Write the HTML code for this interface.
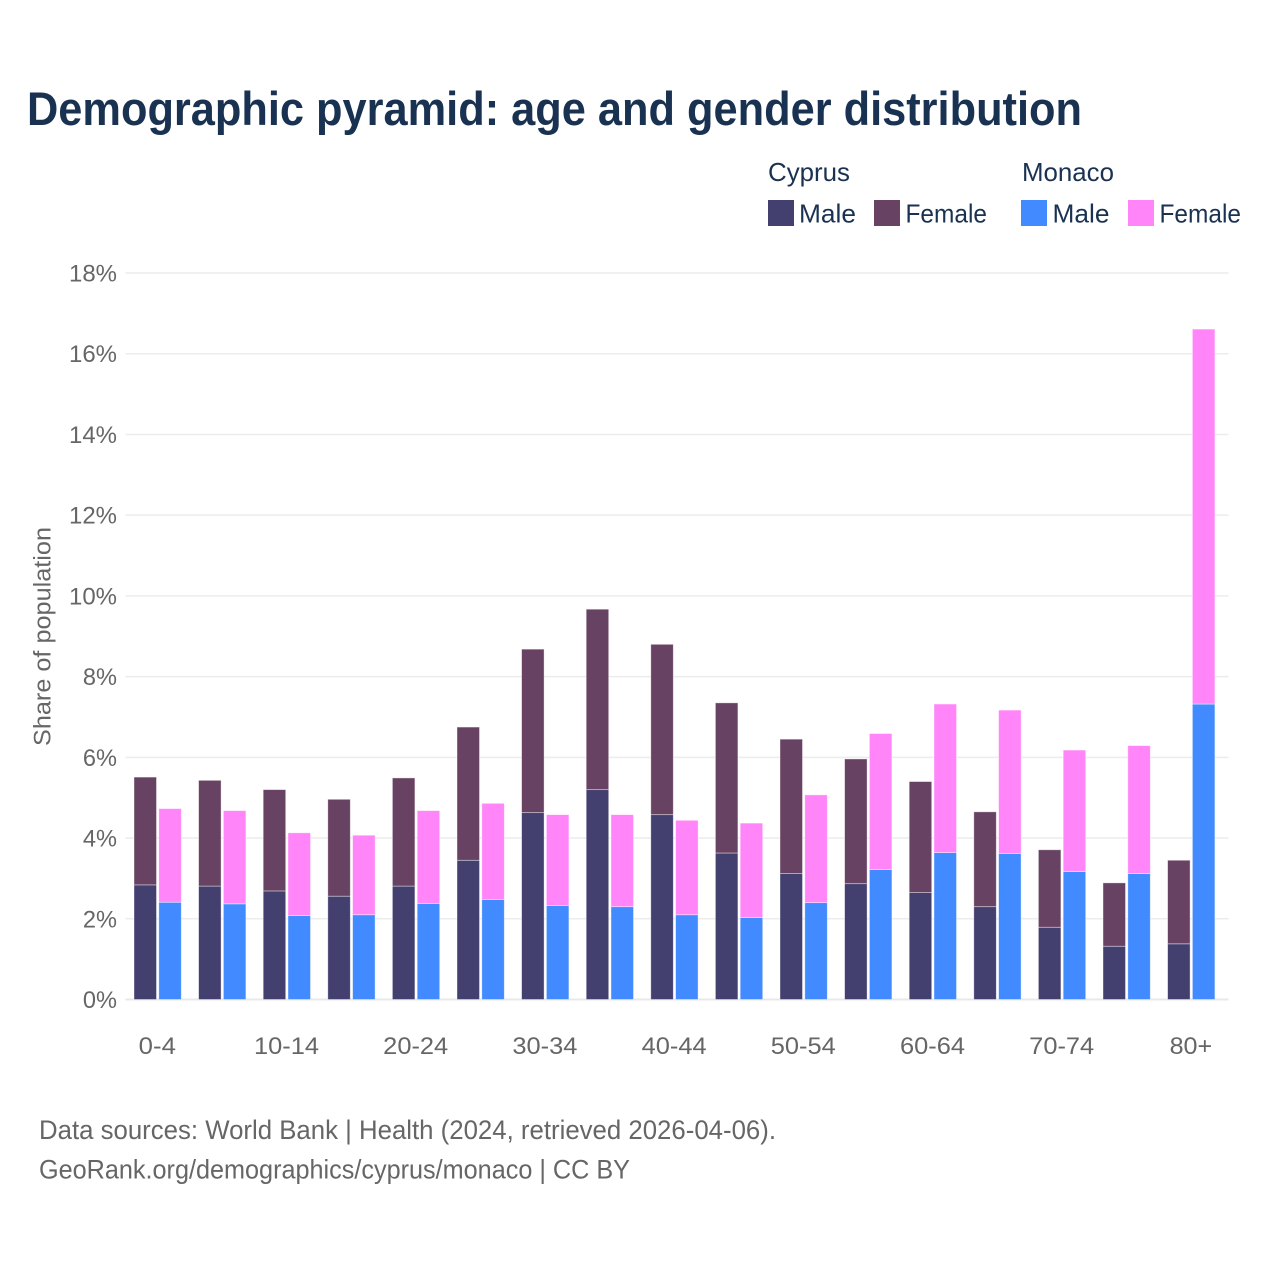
<!DOCTYPE html>
<html lang="en">
<head>
<meta charset="utf-8">
<title>Demographic pyramid: age and gender distribution</title>
<style>
  html, body { margin: 0; padding: 0; background: #ffffff; }
  svg { display: block; font-family: "Liberation Sans", "DejaVu Sans", sans-serif; }
</style>
</head>
<body>
<svg id="chart" width="1280" height="1280" viewBox="0 0 1280 1280" xmlns="http://www.w3.org/2000/svg">
  <rect x="0" y="0" width="1280" height="1280" fill="#ffffff"/>
  <text x="27" y="125" font-size="47" font-weight="700" fill="#1a3252" textLength="1055" lengthAdjust="spacingAndGlyphs">Demographic pyramid: age and gender distribution</text>

  <g font-size="26" fill="#1a3252">
    <text x="768" y="181" textLength="82" lengthAdjust="spacingAndGlyphs">Cyprus</text>
    <text x="1022" y="181" textLength="92" lengthAdjust="spacingAndGlyphs">Monaco</text>
    <rect x="768" y="200" width="26" height="26" fill="#433f6f"/>
    <text x="799" y="222.5" textLength="57" lengthAdjust="spacingAndGlyphs">Male</text>
    <rect x="874" y="200" width="26" height="26" fill="#684262"/>
    <text x="905.5" y="222.5" textLength="81.5" lengthAdjust="spacingAndGlyphs">Female</text>
    <rect x="1021" y="200" width="26" height="26" fill="#418aff"/>
    <text x="1052.5" y="222.5" textLength="57" lengthAdjust="spacingAndGlyphs">Male</text>
    <rect x="1128" y="200" width="26" height="26" fill="#ff85f8"/>
    <text x="1159.5" y="222.5" textLength="81.5" lengthAdjust="spacingAndGlyphs">Female</text>
  </g>

  <g id="grid"></g>
  <g id="y-ticks"></g>
  <g id="bars"></g>
  <g id="x-ticks"></g>

  <text transform="translate(50.5 746) rotate(-90)" x="0" y="0" font-size="24.5" fill="#666666" textLength="219" lengthAdjust="spacingAndGlyphs">Share of population</text>

  <text x="39" y="1139" font-size="26.5" fill="#666666" textLength="737" lengthAdjust="spacingAndGlyphs">Data sources: World Bank | Health (2024, retrieved 2026-04-06).</text>
  <text x="39" y="1178.5" font-size="26.5" fill="#666666" textLength="591" lengthAdjust="spacingAndGlyphs">GeoRank.org/demographics/cyprus/monaco | CC BY</text>
</svg>
<script>
var categories = ['0-4','5-9','10-14','15-19','20-24','25-29','30-34','35-39','40-44','45-49','50-54','55-59','60-64','65-69','70-74','75-79','80+'];
var xTickLabels = ['0-4','10-14','20-24','30-34','40-44','50-54','60-64','70-74','80+'];
var yTickValues = [0,2,4,6,8,10,12,14,16,18];
var cyprusMale = [2.84,2.81,2.69,2.56,2.81,3.45,4.63,5.20,4.58,3.63,3.12,2.87,2.65,2.30,1.79,1.32,1.38];
var cyprusFemale = [2.67,2.62,2.51,2.40,2.68,3.30,4.05,4.47,4.22,3.72,3.33,3.09,2.75,2.35,1.92,1.57,2.07];
var monacoMale = [2.41,2.37,2.08,2.10,2.38,2.48,2.33,2.30,2.10,2.03,2.40,3.22,3.64,3.62,3.17,3.12,7.32];
var monacoFemale = [2.32,2.31,2.05,1.97,2.30,2.38,2.25,2.28,2.34,2.34,2.67,3.37,3.68,3.55,3.01,3.17,9.29];

var NS = 'http://www.w3.org/2000/svg';
var plotLeft = 125.5, plotRight = 1228.5, plotBottom = 999.5, plotTop = 273;
var yMax = 18;
var step = 64.6, barWidth = 22.5;

function yScale(v) { return plotBottom - (v / yMax) * (plotBottom - plotTop); }
function bandStart(i) { return plotLeft + step * i; }
function bandCenter(i) { return bandStart(i) + 32.3; }
function labelWidth(s) {
  var w = 0;
  for (var k = 0; k < s.length; k++) {
    var c = s.charAt(k);
    w += c === '%' ? 20.2 : c === '-' ? 8.6 : c === '+' ? 14 : 13.9;
  }
  return w;
}
function make(tag, attrs) {
  var el = document.createElementNS(NS, tag);
  for (var k in attrs) { el.setAttribute(k, attrs[k]); }
  return el;
}

var gridG = document.getElementById('grid');
var yTickG = document.getElementById('y-ticks');
yTickValues.forEach(function (v) {
  var y = yScale(v);
  var line = make('line', { x1: plotLeft, x2: plotRight, y1: y, y2: y, stroke: v === 0 ? '#e8e8e8' : '#ececec', 'stroke-width': v === 0 ? 2 : 1.5 });
  
  
  gridG.appendChild(line);
  var label = v + '%';
  var t = make('text', { x: 117, y: y + 8.5, 'text-anchor': 'end', 'font-size': 24.5, fill: '#666666', textLength: labelWidth(label), lengthAdjust: 'spacingAndGlyphs' });
  
  
  t.textContent = label;
  yTickG.appendChild(t);
});

var barsG = document.getElementById('bars');
function addBar(x, base, value, color) {
  var top = yScale(base + value), bottom = yScale(base);
  var r = make('rect', { x: x, y: top, width: barWidth, height: bottom - top, fill: color, stroke: '#ffffff', 'stroke-opacity': 0.5, 'stroke-width': 0.8 });
  
  
  barsG.appendChild(r);
}
categories.forEach(function (cat, i) {
  var x1 = bandStart(i) + 8.5, x2 = bandStart(i) + 33.3;
  addBar(x1, 0, cyprusMale[i], '#433f6f');
  addBar(x1, cyprusMale[i], cyprusFemale[i], '#684262');
  addBar(x2, 0, monacoMale[i], '#418aff');
  addBar(x2, monacoMale[i], monacoFemale[i], '#ff85f8');
});

var xTickG = document.getElementById('x-ticks');
xTickLabels.forEach(function (label) {
  var i = categories.indexOf(label);
  var t = make('text', { x: bandCenter(i) - 0.5, y: 1054, 'text-anchor': 'middle', 'font-size': 24.5, fill: '#666666', textLength: labelWidth(label) + 0.8, lengthAdjust: 'spacingAndGlyphs' });
  
  
  t.textContent = label;
  xTickG.appendChild(t);
});
</script>
</body>
</html>
